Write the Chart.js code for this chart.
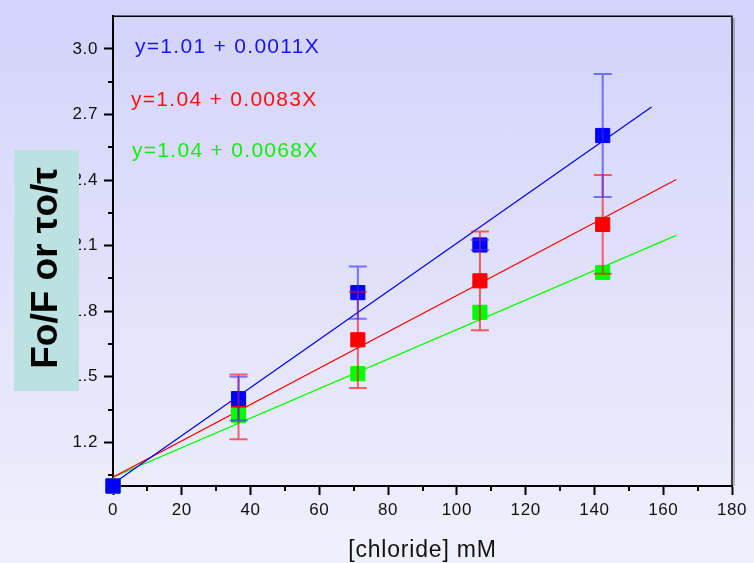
<!DOCTYPE html>
<html>
<head>
<meta charset="utf-8">
<script src="https://cdn.jsdelivr.net/npm/chart.js@4.4.0/dist/chart.umd.min.js"></script>
<style>
  html, body { margin: 0; padding: 0; }
  body {
    width: 754px; height: 563px; overflow: hidden;
    background: linear-gradient(#d3d3fb, #f0f0fd);
  }
  canvas { display: block; }
</style>
</head>
<body>
<canvas id="quenchChart" width="754" height="563"></canvas>
<script>
// [chloride] in mM
const conc = [0, 36.5, 71.2, 106.7, 142.4];

// Fo/F or τo/τ for each probe, with the error bar half-widths
const blueY = [1.0, 1.40, 1.885, 2.103, 2.604];
const blueErr = [0, 0.10, 0.12, 0.023, 0.281];
const redY = [1.0, 1.362, 1.669, 1.939, 2.197];
const redErr = [0, 0.148, 0.22, 0.226, 0.226];
const greenY = [1.0, 1.324, 1.514, 1.795, 1.977];

// linear fits, start and end of each drawn line
const blueFitX = [0, 156.6];
const blueFitY = [1.01, 2.734];
const redFitX = [0, 163.8];
const redFitY = [1.04, 2.403];
const greenFitX = [0, 163.8];
const greenFitY = [1.04, 2.147];

const fitLabels = ['y=1.01 + 0.0011X', 'y=1.04 + 0.0083X', 'y=1.04 + 0.0068X'];

const yTicks = [1.2, 1.5, 1.8, 2.1, 2.4, 2.7, 3.0];
const yMinorTicks = [1.05, 1.35, 1.65, 1.95, 2.25, 2.55, 2.85];
const xMinorTicks = [10, 30, 50, 70, 90, 110, 130, 150, 170];

const BLUE = '#0000ff';
const RED = '#ff0000';
const GREEN = '#00ff00';
const FONT = '"Liberation Sans", Arial, sans-serif';

const toPts = (xs, ys) => xs.map((x, i) => ({ x: x, y: ys[i] }));

function fitLine(xs, ys, color, order) {
  return {
    data: toPts(xs, ys),
    showLine: true,
    borderColor: color,
    borderWidth: 1.2,
    pointRadius: 0,
    order: order
  };
}

function pointSet(ys, color, order) {
  return {
    data: toPts(conc, ys),
    showLine: false,
    clip: false,
    pointStyle: 'rect',
    pointRadius: 10,
    pointBorderWidth: 1,
    pointBackgroundColor: color,
    pointBorderColor: color,
    order: order
  };
}

// error bars, frame, minor ticks and the text boxes
const extras = {
  id: 'extras',
  beforeDraw(chart) {
    chart.ctx.letterSpacing = '0.6px';
  },
  afterDatasetsDraw(chart) {
    const ctx = chart.ctx;
    const xs = chart.scales.x, ys = chart.scales.y;
    const bars = [[redY, redErr, 'rgba(255,0,0,0.6)'], [blueY, blueErr, 'rgba(40,40,255,0.6)']];
    ctx.save();
    ctx.lineWidth = 2;
    bars.forEach(([vals, errs, color]) => {
      ctx.strokeStyle = color;
      vals.forEach((v, i) => {
        if (!errs[i]) return;
        const px = xs.getPixelForValue(conc[i]);
        const top = ys.getPixelForValue(v + errs[i]);
        const bot = ys.getPixelForValue(v - errs[i]);
        ctx.beginPath();
        ctx.moveTo(px, top); ctx.lineTo(px, bot);
        ctx.moveTo(px - 9, top); ctx.lineTo(px + 9, top);
        ctx.moveTo(px - 9, bot); ctx.lineTo(px + 9, bot);
        ctx.stroke();
      });
    });
    ctx.restore();
  },
  afterDraw(chart) {
    const ctx = chart.ctx;
    const a = chart.chartArea;
    const xs = chart.scales.x, ys = chart.scales.y;
    ctx.save();

    // top and right frame with a soft shadow
    ctx.strokeStyle = 'rgba(110,110,110,0.45)';
    ctx.lineWidth = 2;
    ctx.beginPath();
    ctx.moveTo(a.right + 2, a.top + 2); ctx.lineTo(a.right + 2, a.bottom);
    ctx.stroke();
    ctx.strokeStyle = '#000';
    ctx.lineWidth = 1.5;
    ctx.beginPath();
    ctx.moveTo(a.left, a.top); ctx.lineTo(a.right, a.top); ctx.lineTo(a.right, a.bottom);
    ctx.stroke();

    // minor ticks
    ctx.lineWidth = 2;
    ctx.beginPath();
    yMinorTicks.forEach(v => {
      const py = Math.round(ys.getPixelForValue(v));
      ctx.moveTo(a.left - 5, py); ctx.lineTo(a.left, py);
    });
    xMinorTicks.forEach(v => {
      const px = Math.round(xs.getPixelForValue(v));
      ctx.moveTo(px, a.bottom); ctx.lineTo(px, a.bottom + 5);
    });
    ctx.stroke();

    // fit equations
    ctx.font = '21px ' + FONT;
    ctx.letterSpacing = '1.3px';
    ctx.textAlign = 'left';
    ctx.textBaseline = 'alphabetic';
    ctx.fillStyle = '#1414ff';
    ctx.fillText(fitLabels[0], 135, 53);
    ctx.fillStyle = '#ff1010';
    ctx.fillText(fitLabels[1], 131, 106);
    ctx.fillStyle = '#10ee10';
    ctx.fillText(fitLabels[2], 132, 157);

    // x axis title
    ctx.fillStyle = '#111';
    ctx.font = '23px ' + FONT;
    ctx.letterSpacing = '0.8px';
    ctx.textAlign = 'center';
    ctx.fillText('[chloride] mM', (a.left + a.right) / 2, 557);

    // y axis title on its tinted box
    ctx.fillStyle = '#bce1e1';
    ctx.fillRect(14, 150, 65, 241);
    ctx.translate(47, 268);
    ctx.rotate(-Math.PI / 2);
    ctx.fillStyle = '#000';
    ctx.font = 'bold 37px ' + FONT;
    ctx.letterSpacing = '0px';
    ctx.textAlign = 'center';
    ctx.textBaseline = 'middle';
    ctx.fillText('Fo/F or τo/τ', 0, 0);
    ctx.restore();
  }
};

new Chart(document.getElementById('quenchChart'), {
  type: 'scatter',
  data: {
    datasets: [
      pointSet(blueY, BLUE, 1),
      pointSet(greenY, GREEN, 2),
      pointSet(redY, RED, 3),
      fitLine(blueFitX, blueFitY, BLUE, 4),
      fitLine(redFitX, redFitY, RED, 5),
      fitLine(greenFitX, greenFitY, GREEN, 6)
    ]
  },
  options: {
    responsive: false,
    animation: false,
    layout: { padding: { top: 6, right: 22, left: 0, bottom: 0 } },
    plugins: { legend: { display: false }, tooltip: { enabled: false } },
    scales: {
      x: {
        type: 'linear',
        min: 0,
        max: 180,
        afterFit: s => { s.height = 77; },
        border: { display: true, color: '#000', width: 2 },
        grid: { drawOnChartArea: false, drawTicks: true, tickLength: 9, tickWidth: 2, tickColor: '#000' },
        ticks: {
          stepSize: 20,
          padding: 5,
          color: '#111',
          font: { family: FONT, size: 17 }
        }
      },
      y: {
        type: 'linear',
        min: 1.0,
        max: 3.15,
        afterFit: s => { s.width = 113; },
        afterBuildTicks: s => { s.ticks = yTicks.map(v => ({ value: v })); },
        border: { display: true, color: '#000', width: 2 },
        grid: { drawOnChartArea: false, drawTicks: true, tickLength: 9, tickWidth: 2, tickColor: '#000' },
        ticks: {
          padding: 6,
          color: '#111',
          font: { family: FONT, size: 17 },
          callback: v => v.toFixed(1)
        }
      }
    }
  },
  plugins: [extras]
});
</script>
</body>
</html>
